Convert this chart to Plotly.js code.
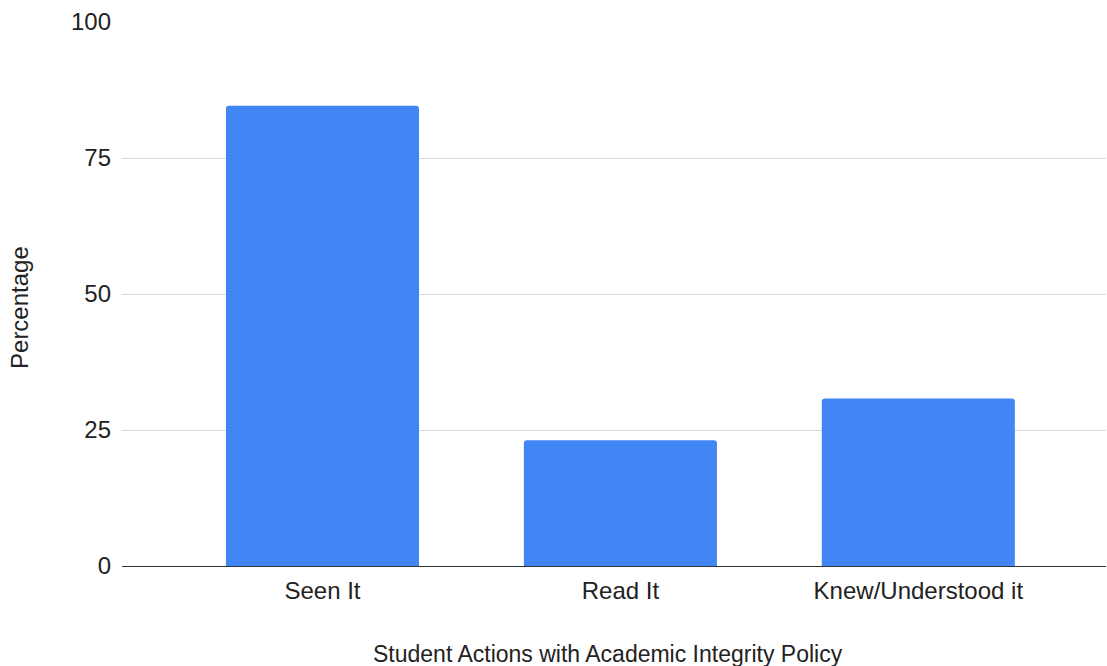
<!DOCTYPE html>
<html>
<head>
<meta charset="utf-8">
<script src="https://cdn.plot.ly/plotly-3.0.1.min.js"></script>
<style>
  html, body { margin: 0; padding: 0; background: #ffffff; }
  #chart { width: 1107px; height: 666px; }
</style>
</head>
<body>
<div id="chart"></div>
<script>
// Share of students who took each action with the academic integrity policy
const actions = ["Seen It", "Read It", "Knew/Understood it"];
const percentages = [84.6, 23.1, 30.8];
const yTicks = [0, 25, 50, 75, 100];
const xTitle = "Student Actions with Academic Integrity Policy";
const yTitle = "Percentage";

const fontFamily = "Liberation Sans, Arial, sans-serif";
const textColor = "#222222";

const trace = {
  type: "bar",
  x: actions,
  y: percentages,
  marker: { color: "#4285f4", cornerradius: 3 },
  hoverinfo: "x+y"
};

const layout = {
  width: 1107,
  height: 666,
  margin: { l: 122, r: 1, t: 22, b: 100 },
  paper_bgcolor: "#ffffff",
  plot_bgcolor: "#ffffff",
  font: { family: fontFamily, size: 24, color: textColor },
  bargap: 0.352,
  showlegend: false,
  xaxis: {
    type: "category",
    range: [-0.673, 2.63],
    showgrid: false,
    showline: false,
    ticks: "",
    ticklabelstandoff: 8,
    tickfont: { size: 24, color: textColor }
  },
  yaxis: {
    range: [0, 100],
    tickvals: yTicks,
    ticktext: yTicks.map(String),
    showgrid: true,
    gridcolor: "#d9d9d9",
    gridwidth: 1,
    zeroline: true,
    zerolinecolor: "#333333",
    zerolinewidth: 1,
    ticks: "",
    ticklabelstandoff: 10,
    tickfont: { size: 24, color: textColor }
  },
  // axis titles placed as annotations so they can sit off the plot centre
  annotations: [
    {
      text: xTitle,
      xref: "paper", yref: "paper",
      x: 0.4939, y: -0.1618,
      xanchor: "center", yanchor: "middle",
      showarrow: false,
      font: { size: 23, color: textColor }
    },
    {
      text: yTitle,
      xref: "paper", yref: "paper",
      x: -0.1047, y: 0.4761,
      xanchor: "center", yanchor: "middle",
      textangle: -90,
      showarrow: false,
      font: { size: 24, color: textColor }
    }
  ]
};

Plotly.newPlot("chart", [trace], layout, { displayModeBar: false, staticPlot: true });
</script>
</body>
</html>
